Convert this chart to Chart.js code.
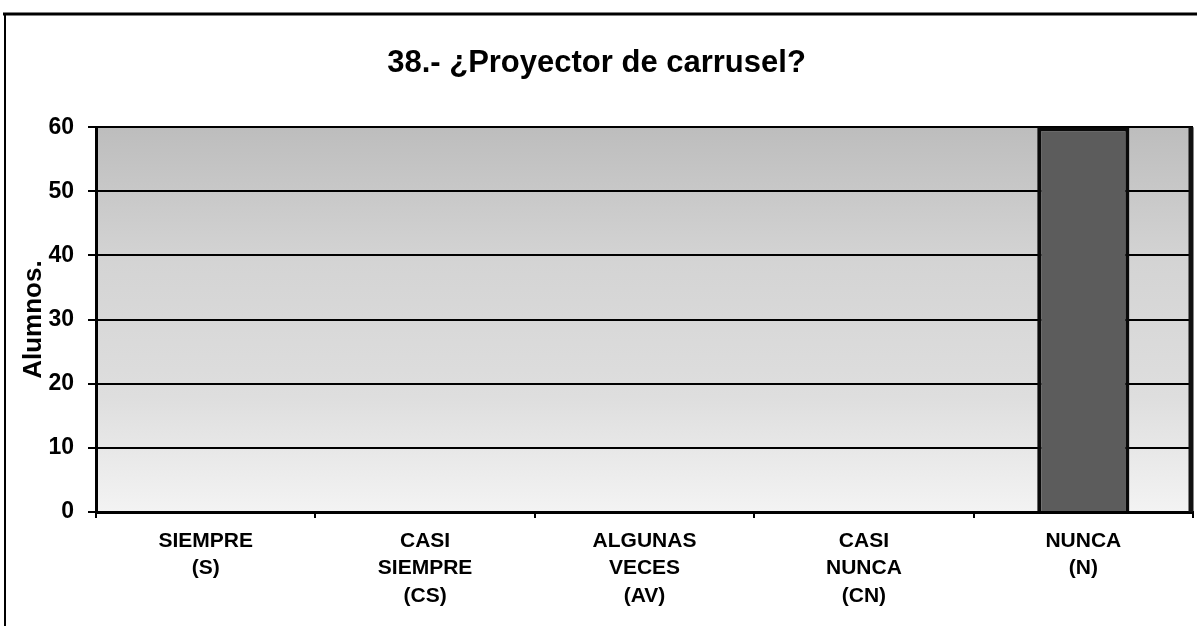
<!DOCTYPE html>
<html>
<head>
<meta charset="utf-8">
<script src="https://cdn.jsdelivr.net/npm/chart.js@4.4.1/dist/chart.umd.min.js"></script>
<style>
  html, body { margin: 0; padding: 0; background: #fff; }
  #wrap { width: 1197px; height: 626px; position: relative; }
</style>
</head>
<body>
<div id="wrap"><canvas id="graficoCarrusel"></canvas></div>
<script>
const titulo = '38.- ¿Proyector de carrusel?';
const tituloY = 'Alumnos.';
const categorias = [
    ['SIEMPRE', '(S)'],
    ['CASI', 'SIEMPRE', '(CS)'],
    ['ALGUNAS', 'VECES', '(AV)'],
    ['CASI', 'NUNCA', '(CN)'],
    ['NUNCA', '(N)']
];
const alumnos = [0, 0, 0, 0, 60];
const ejeYMin = 0;
const ejeYMax = 60;
const ejeYPaso = 10;

const fuente = '"Liberation Sans", Arial, sans-serif';

// fondo gris del area del grafico y marco de la hoja escaneada
const fondoPlugin = {
    id: 'fondo',
    beforeDraw(chart) {
        const { ctx, chartArea: a } = chart;
        ctx.save();
        const g = ctx.createLinearGradient(0, a.top, 0, a.bottom);
        g.addColorStop(0, '#bdbdbd');
        g.addColorStop(0.35, '#d4d4d4');
        g.addColorStop(0.7, '#dedede');
        g.addColorStop(1, '#f3f3f3');
        ctx.fillStyle = g;
        ctx.fillRect(a.left, a.top, a.right - a.left, a.bottom - a.top);

        ctx.strokeStyle = '#000';
        ctx.lineWidth = 3;
        ctx.beginPath();
        ctx.moveTo(3, 14); ctx.lineTo(1197, 14);
        ctx.stroke();
        ctx.lineWidth = 2;
        ctx.beginPath();
        ctx.moveTo(5, 14); ctx.lineTo(5, 626);
        ctx.stroke();
        ctx.restore();
    },
    afterDatasetsDraw(chart) {
        const { ctx, chartArea: a } = chart;
        ctx.save();
        ctx.strokeStyle = '#111';
        ctx.lineWidth = 5;
        ctx.beginPath();
        ctx.moveTo(a.right - 2, a.top); ctx.lineTo(a.right - 2, a.bottom);
        ctx.stroke();
        ctx.restore();
    }
};

new Chart(document.getElementById('graficoCarrusel'), {
    type: 'bar',
    data: {
        labels: categorias,
        datasets: [{
            label: tituloY,
            data: alumnos,
            backgroundColor: '#5c5c5c',
            borderColor: '#0a0a0a',
            borderWidth: c => (c.raw > 0 ? 4 : 0),
            borderSkipped: 'bottom',
            barPercentage: 0.42,
            categoryPercentage: 1
        }]
    },
    options: {
        responsive: true,
        maintainAspectRatio: false,
        animation: false,
        layout: { padding: { left: 0, right: 4, top: 0, bottom: 0 } },
        plugins: {
            legend: { display: false },
            tooltip: { enabled: false },
            title: {
                display: true,
                text: titulo,
                color: '#000',
                font: { family: fuente, size: 31, weight: 'bold' },
                padding: { top: 45, bottom: 45 }
            }
        },
        scales: {
            x: {
                offset: true,
                afterFit: s => { s.height = 114; },
                border: { color: '#000', width: 3 },
                grid: { offset: true, drawOnChartArea: false, drawTicks: true, tickLength: 6, color: '#000', lineWidth: 2 },
                ticks: {
                    color: '#000',
                    padding: 10,
                    maxRotation: 0,
                    autoSkip: false,
                    font: { family: fuente, size: 21, weight: 'bold', lineHeight: 1.29 }
                }
            },
            y: {
                min: ejeYMin,
                max: ejeYMax,
                afterFit: s => { s.width = 96; },
                border: { color: '#000', width: 3 },
                grid: { color: '#000', lineWidth: 2, drawTicks: true, tickLength: 8 },
                ticks: {
                    stepSize: ejeYPaso,
                    color: '#000',
                    padding: 14,
                    font: { family: fuente, size: 23, weight: 'bold' }
                },
                title: {
                    display: true,
                    text: tituloY,
                    color: '#000',
                    font: { family: fuente, size: 26, weight: 'bold' },
                    padding: { top: 18, bottom: 0 }
                }
            }
        }
    },
    plugins: [fondoPlugin]
});
</script>
</body>
</html>
